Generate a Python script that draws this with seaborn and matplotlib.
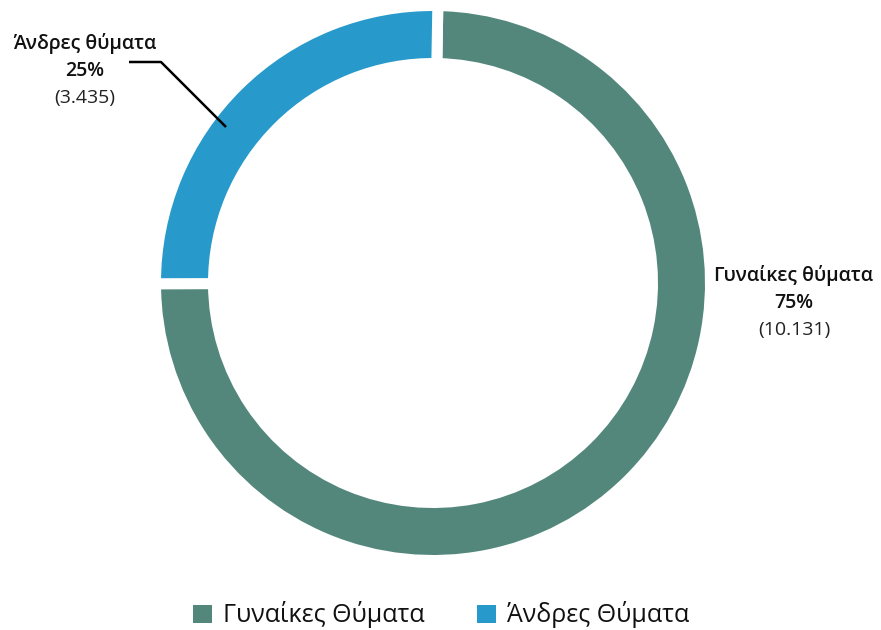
import matplotlib
matplotlib.use("Agg")
import matplotlib.pyplot as plt
import seaborn as sns
from matplotlib.patches import Patch

categories = ["Γυναίκες Θύματα", "Άνδρες Θύματα"]
label_names = ["Γυναίκες θύματα", "Άνδρες θύματα"]
values = [10131, 3435]
percent_labels = ["75%", "25%"]
count_labels = ["(10.131)", "(3.435)"]
colors = ["#53877C", "#2899CB"]

sns.set_theme(style="white")
plt.rcParams['font.family'] = ['Open Sans', 'DejaVu Sans']

W, H = 881, 630
fig = plt.figure(figsize=(W / 100, H / 100), dpi=100)
ax = fig.add_axes([0, 0, 1, 1])

cx, cy = 433, H - 283
lw_px = 11
ax.pie(values, colors=sns.color_palette(colors), startangle=89, counterclock=False,
       center=(cx, cy), radius=272 + lw_px / 2, frame=True,
       wedgeprops=dict(width=47 + lw_px, edgecolor="white", linewidth=lw_px * 0.72))
ax.set_xlim(0, W)
ax.set_ylim(0, H)
ax.set_aspect("equal")
ax.axis("off")

fs = 14
# Right label (women)
rx = 794
ax.text(rx, H - 276, label_names[0], ha="center", va="center", fontsize=fs, fontweight="semibold", color="#111111")
ax.text(rx, H - 303, percent_labels[0], ha="center", va="center", fontsize=fs, fontweight="semibold", color="#111111")
ax.text(rx, H - 330, count_labels[0], ha="center", va="center", fontsize=fs, color="#222222")
# Left label (men)
lx = 85
ax.text(lx, H - 44, label_names[1], ha="center", va="center", fontsize=fs, fontweight="semibold", color="#111111")
ax.text(lx, H - 71, percent_labels[1], ha="center", va="center", fontsize=fs, fontweight="semibold", color="#111111")
ax.text(lx, H - 98, count_labels[1], ha="center", va="center", fontsize=fs, color="#222222")
ax.plot([129, 161, 226], [H - 62, H - 62, H - 127], color="black", lw=1.8, solid_capstyle="butt")

handles = [Patch(facecolor=c, edgecolor="none") for c in colors]
fig.legend(handles, categories, loc="center", bbox_to_anchor=(441 / W, 1 - 615 / H), ncol=2,
           frameon=False, fontsize=18, handlelength=0.75, handleheight=0.75,
           handletextpad=0.45, columnspacing=2.1, labelcolor="#111111")

fig.savefig("out.png", dpi=100, facecolor="white")
